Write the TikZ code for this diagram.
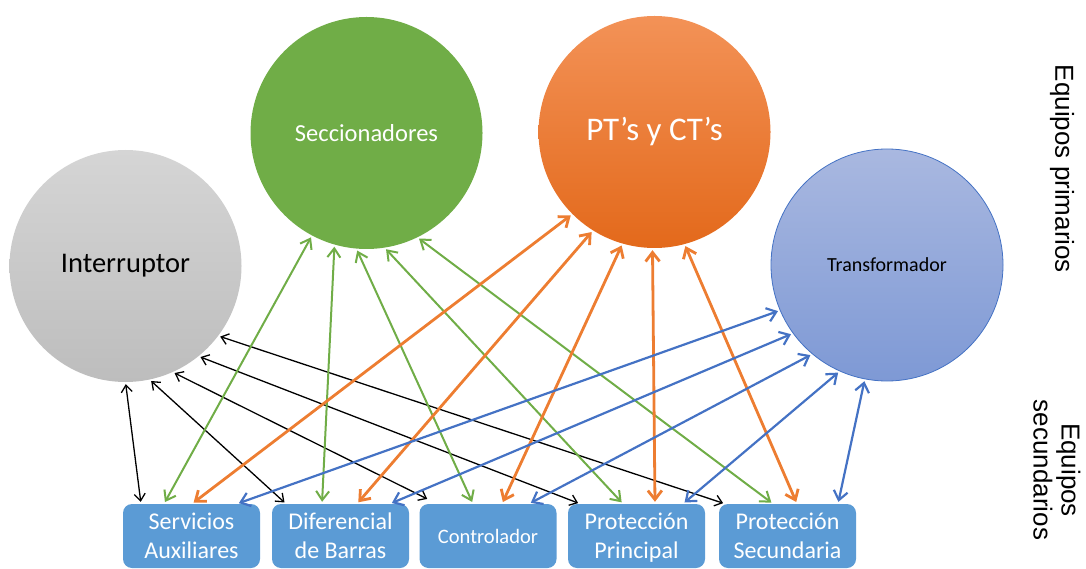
\documentclass[tikz,border=0pt]{standalone}
\usepackage{fontspec}
\setmainfont{Carlito}
\newfontfamily\arialfont{Liberation Sans}
\usetikzlibrary{arrows.meta,shadings}

\definecolor{boxblue}{HTML}{5B9BD5}
\definecolor{secgreen}{HTML}{70AD47}
\definecolor{ptorange}{HTML}{ED7D31}
\definecolor{ptlight}{HTML}{F39257}
\definecolor{ptdark}{HTML}{E3691B}
\definecolor{trblue}{HTML}{4472C4}
\definecolor{trlight}{HTML}{A9B8E0}
\definecolor{trdark}{HTML}{7E99D5}
\definecolor{grlight}{HTML}{D5D5D5}
\definecolor{grdark}{HTML}{BDBDBD}

% fixed-height struts so every two-line box label sits on the same baselines
\newcommand{\labtop}{\rule{0pt}{23pt}}
\newcommand{\labbot}{\rule[-7pt]{0pt}{7pt}}
\newcommand{\twolines}[2]{\labtop#1\\#2\labbot}

\tikzset{
  equip/.style={circle, minimum size=232pt, inner sep=0pt, align=center},
  secbox/.style={rectangle, rounded corners=9pt, fill=boxblue, text=white,
    minimum width=137pt, minimum height=64pt, inner sep=0pt, align=center,
    font=\fontsize{24}{29}\selectfont},
  link/.style={shorten <=2pt, shorten >=2pt},
  blk/.style={link, black, line width=1.3pt,
    {Straight Barb[length=7pt,width=11pt]}-{Straight Barb[length=7pt,width=11pt]}},
  grn/.style={link, secgreen, line width=2pt,
    {Straight Barb[length=9pt,width=13pt]}-{Straight Barb[length=9pt,width=13pt]}},
  org/.style={link, ptorange, line width=2.8pt,
    {Straight Barb[length=9pt,width=14pt]}-{Straight Barb[length=9pt,width=14pt]}},
  blu/.style={link, trblue, line width=2.2pt,
    {Straight Barb[length=9pt,width=14pt]}-{Straight Barb[length=9pt,width=14pt]}},
  sidelabel/.style={rotate=-90, align=center,
    font=\arialfont\fontsize{26}{28}\selectfont}
}

\begin{document}
\begin{tikzpicture}[x=1pt, y=-1pt]
\useasboundingbox (0,0) rectangle (1086,569);

% primary equipment
\node[equip, top color=grlight, bottom color=grdark,
      font=\fontsize{28.5}{34}\selectfont] (I) at (125.5,266) {Interruptor};
\node[equip, fill=secgreen, text=white,
      font=\fontsize{24.5}{29}\selectfont] (S) at (366.5,133) {Seccionadores};
\node[equip, top color=ptlight, bottom color=ptdark, text=white,
      font=\fontsize{33}{40}\selectfont] (P) at (654.5,132) {PT’s y CT’s};
\node[equip, top color=trlight, bottom color=trdark, draw=trblue, line width=0.8pt,
      font=\fontsize{20}{24}\selectfont] (T) at (887,265) {Transformador};

% secondary equipment
\node[secbox] (sa)  at (191.5,536) {\twolines{Servicios}{Auxiliares}};
\node[secbox] (db)  at (340.5,536) {\twolines{Diferencial}{de Barras}};
\node[secbox, font=\fontsize{20.5}{25}\selectfont] (ctl) at (488,536) {Controlador};
\node[secbox] (pp)  at (636.5,536) {\twolines{Protección}{Principal}};
\node[secbox] (ps)  at (787.5,536) {\twolines{Protección}{Secundaria}};

% side labels
\node[sidelabel] (prim) at (1062,169) {Equipos primarios};
\node[sidelabel] (secu) at (1057,470) {Equipos\\secundarios};

% Interruptor links
\draw[blk] (I.-90)   -- ([xshift=-50.5pt]sa.north);
\draw[blk] (I.-78.4) -- ([xshift=-54.5pt]db.north);
\draw[blk] (I.-66.3) -- ([xshift=-59pt,yshift=4pt]ctl.north);
\draw[blk] (I.-51.6) -- ([xshift=-56.5pt]pp.north);
\draw[blk] (I.-37.1) -- ([xshift=-62.5pt]ps.north);

% Seccionadores links
\draw[grn] (S.-118.3) -- ([xshift=-27.5pt]sa.north);
\draw[grn] (S.-106.5) -- ([xshift=-18.5pt]db.north);
\draw[grn] (S.-95)    -- ([xshift=-15pt]ctl.north);
\draw[grn] (S.-81.1)  -- ([xshift=-13.5pt]pp.north);
\draw[grn] (S.-64.9)  -- ([xshift=-14.5pt]ps.north);

% PT's y CT's links
\draw[org] (P.-135.2) -- ([xshift=0.5pt]sa.north);
\draw[org] (P.-122.5) -- ([xshift=16.5pt]db.north);
\draw[org] (P.-106)   -- ([xshift=14pt]ctl.north);
\draw[org] (P.-91.2)  -- ([xshift=18.5pt]pp.north);
\draw[org] (P.-75.6)  -- ([xshift=9.5pt]ps.north);

% Transformador links
\draw[blu] (T.-157.4) -- ([xshift=45.5pt]sa.north);
\draw[blu] (T.-144.1) -- ([xshift=49.5pt]db.north);
\draw[blu] (T.-130.2) -- ([xshift=41pt]ctl.north);
\draw[blu] (T.-114)   -- ([xshift=46.5pt]pp.north);
\draw[blu] (T.-101)   -- ([xshift=50.5pt]ps.north);
\end{tikzpicture}
\end{document}
